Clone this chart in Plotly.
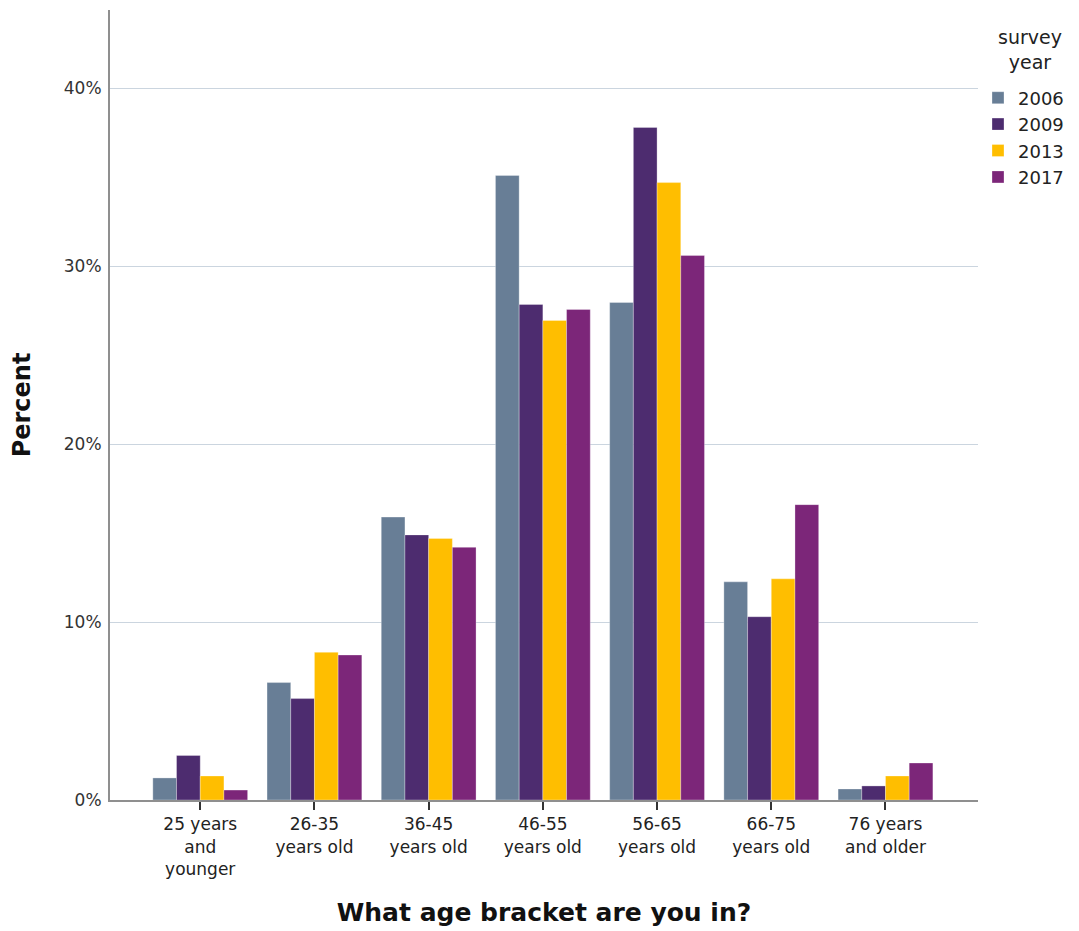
import plotly.graph_objects as go

categories = ["25 years<br>and<br>younger", "26-35<br>years old", "36-45<br>years old",
              "46-55<br>years old", "56-65<br>years old", "66-75<br>years old",
              "76 years<br>and older"]
years = ["2006", "2009", "2013", "2017"]
v2006 = [1.24, 6.6, 15.9, 35.1, 27.96, 12.26, 0.62]
v2009 = [2.5, 5.7, 14.9, 27.85, 37.8, 10.3, 0.79]
v2013 = [1.35, 8.3, 14.7, 26.95, 34.7, 12.43, 1.35]
v2017 = [0.56, 8.15, 14.2, 27.57, 30.6, 16.6, 2.08]
series = [v2006, v2009, v2013, v2017]
y_ticks = [0, 10, 20, 30, 40]
y_ticktext = ["0%", "10%", "20%", "30%", "40%"]
colors = ["#687E96", "#4D2C6F", "#FFBE00", "#7C2679"]

fig = go.Figure()
for yr, vals, col in zip(years, series, colors):
    fig.add_trace(go.Bar(x=list(range(len(categories))), y=vals, name=yr,
                         marker=dict(color=col, line=dict(width=0.6, color="rgba(255,255,255,0.5)"))))

font = "DejaVu Sans, Verdana, sans-serif"
fig.update_layout(
    width=1071, height=923,
    margin=dict(l=102, r=101, t=2, b=131),
    paper_bgcolor="white", plot_bgcolor="white",
    barmode="group", bargap=0.17, bargroupgap=0,
    font=dict(family=font, size=17, color="#222"),
    showlegend=True,
    legend=dict(x=1.0, y=0.912, xanchor="left", yanchor="top",
                font=dict(size=18, color="#222"), tracegroupgap=0, itemwidth=30),
    annotations=[dict(text="survey<br>year", x=1.06, y=0.95, xref="paper", yref="paper",
                      xanchor="center", yanchor="middle", align="center", showarrow=False,
                      font=dict(size=19, color="#222"))],
    xaxis=dict(range=[-0.79, 6.81], tickvals=list(range(len(categories))), ticktext=categories,
               showline=True, linecolor="#8f8f8f", linewidth=2, ticks="outside", ticklen=8,
               tickcolor="#333", tickwidth=2, showgrid=False, zeroline=False,
               tickfont=dict(size=17, color="#222"),
               title=dict(text="<b>What age bracket are you in?</b>", font=dict(size=25, color="#111"), standoff=26)),
    yaxis=dict(range=[0, 44.4], tickvals=y_ticks, ticktext=y_ticktext,
               showline=True, linecolor="#8f8f8f", linewidth=2, ticks="", ticklabelstandoff=3,
               showgrid=True, gridcolor="#CBD5DF", gridwidth=1, zeroline=False,
               tickfont=dict(size=17, color="#333"),
               title=dict(text="<b>Percent</b>", font=dict(size=24, color="#111"), standoff=27)),
)
fig.write_html("out.html")
